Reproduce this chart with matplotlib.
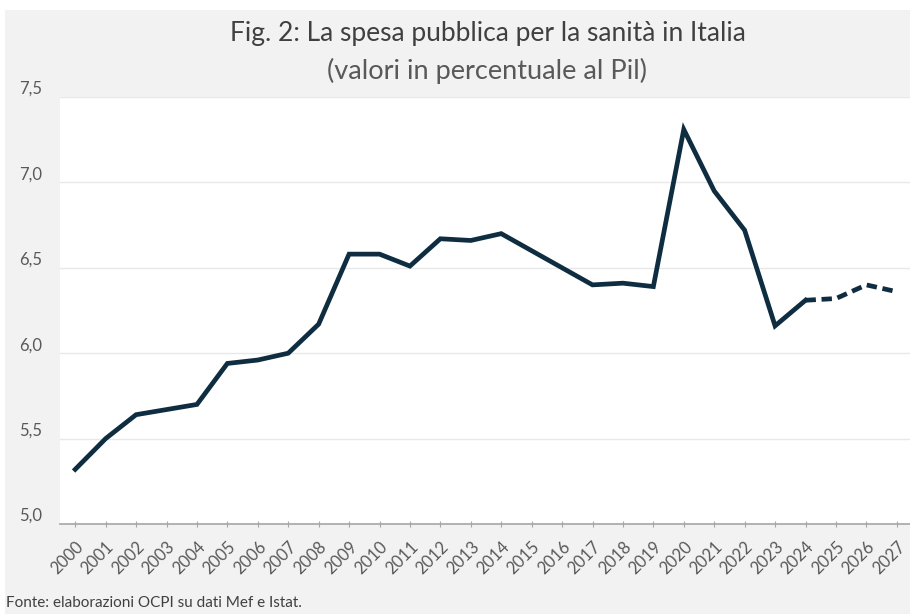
import matplotlib.pyplot as plt
from matplotlib.patches import Rectangle

# data (percent of GDP)
years = list(range(2000, 2028))
spesa = [5.32, 5.50, 5.64, 5.67, 5.70, 5.94, 5.96, 6.00, 6.17, 6.58,
         6.58, 6.51, 6.67, 6.66, 6.70, 6.60, 6.50, 6.40, 6.41, 6.39,
         7.31, 6.95, 6.72, 6.16, 6.31, 6.32, 6.40, 6.36]
last_actual = 2024  # dashed after this year

W, H = 910, 614
fig = plt.figure(figsize=(W / 100, H / 100), dpi=100, facecolor="white")
fig.patches.append(Rectangle((5 / W, 0), 1, 1 - 10 / H, transform=fig.transFigure,
                             facecolor="#f2f2f2", edgecolor="none", zorder=-10))

ax = fig.add_axes([60 / W, (H - 524) / H, 852 / W, (524 - 97) / H])
ax.set_facecolor("white")

navy = "#0f2d40"
i = years.index(last_actual)
ax.plot(years[:i + 1], spesa[:i + 1], color=navy, lw=3.4, solid_joinstyle="miter", zorder=3)
ax.plot(years[i:], spesa[i:], color=navy, lw=3.4, ls=(0, (2.2, 1.2)), zorder=3)

ax.set_xlim(years[0] - 0.5, years[-1] + 0.5)
ax.set_ylim(5.0, 7.5)
ax.set_yticks([5.0, 5.5, 6.0, 6.5, 7.0, 7.5])
ax.set_yticklabels(["5,0", "5,5", "6,0", "6,5", "7,0", "7,5"])
ax.set_xticks(years)
ax.set_xticklabels([str(y) for y in years], rotation=45, ha="right",
                   rotation_mode="anchor")

for s in ["top", "right", "left"]:
    ax.spines[s].set_visible(False)
ax.spines["bottom"].set_color("#a6a6a6")
ax.spines["bottom"].set_linewidth(1.2)
ax.grid(axis="y", color="#e8e8e8", lw=1)
ax.set_axisbelow(True)

ax.tick_params(axis="y", length=0, pad=13, labelsize=12, labelcolor="#595959")
ax.tick_params(axis="x", length=5, direction="inout", color="#a6a6a6",
               labelsize=12, labelcolor="#595959", pad=8)
for lab in ax.get_yticklabels() + ax.get_xticklabels():
    lab.set_fontfamily("Lato")
for lab in ax.get_yticklabels():
    lab.set_verticalalignment("bottom")

fig.text(0.536, 1 - 33 / H, "Fig. 2: La spesa pubblica per la sanità in Italia",
         ha="center", va="center", fontsize=19, color="#404040", family="Lato")
fig.text(0.535, 1 - 71 / H, "(valori in percentuale al Pil)",
         ha="center", va="center", fontsize=19.5, color="#595959", family="Lato")
fig.text(6 / W, 1 - 603 / H, "Fonte: elaborazioni OCPI su dati Mef e Istat.",
         ha="left", va="center", fontsize=11, color="#404040", family="Lato")

fig.savefig("out.png", dpi=100, facecolor=fig.get_facecolor())
